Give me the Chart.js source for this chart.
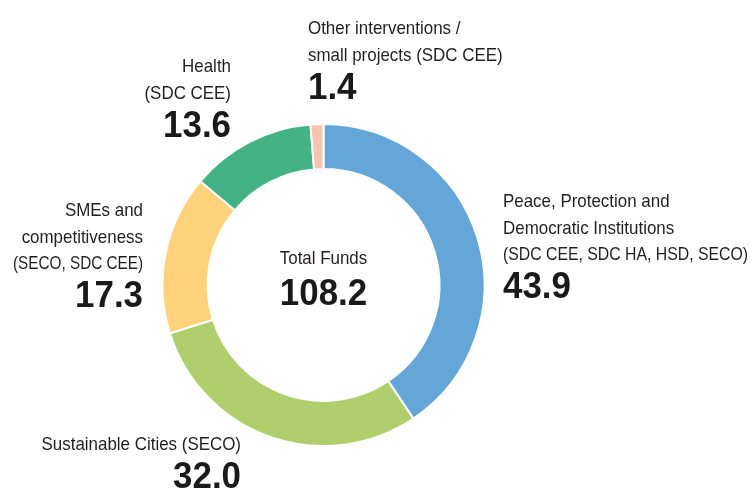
<!DOCTYPE html>
<html>
<head>
<meta charset="utf-8">
<script src="https://cdn.jsdelivr.net/npm/chart.js@4.4.1/dist/chart.umd.min.js"></script>
<style>
  html, body { margin:0; padding:0; background:#fff; }
  #wrap { width:752px; height:490px; position:relative; }
</style>
</head>
<body>
<div id="wrap"><canvas id="c"></canvas></div>
<script>
// data
const categories = [
  ['Peace, Protection and', 'Democratic Institutions', '(SDC CEE, SDC HA, HSD, SECO)'],
  ['Sustainable Cities (SECO)'],
  ['SMEs and', 'competitiveness', '(SECO, SDC CEE)'],
  ['Health', '(SDC CEE)'],
  ['Other interventions /', 'small projects (SDC CEE)']
];
const values = [43.9, 32.0, 17.3, 13.6, 1.4];
const colors = ['#64a6d8', '#afcf6c', '#fdd27a', '#43b386', '#f7c4b0'];
const totalLabel = 'Total Funds';
const totalValue = 108.2;

// label placement (x anchor, alignment, first baseline, max line width)
const labelPos = [
  { x: 503, align: 'left',  y: 207, maxW: 245 },
  { x: 241, align: 'right', y: 450, maxW: 999 },
  { x: 143, align: 'right', y: 216, maxW: 130 },
  { x: 231, align: 'right', y: 72,  maxW: 999 },
  { x: 308, align: 'left',  y: 34,  maxW: 999 }
];

const TEXT_FONT = '18.5px "Liberation Sans", sans-serif';
const NUM_FONT = 'bold 36px "Liberation Sans", sans-serif';
const LINE_H = 26.5;
const SQUEEZE = 0.915; // the original uses a condensed face

function squeezed(ctx, str, x, y, sx, maxW){
  if (maxW) {
    const w = ctx.measureText(str).width;
    sx = Math.min(sx, maxW / w);
  }
  ctx.save();
  ctx.translate(x, y);
  ctx.scale(sx, 1);
  ctx.fillText(str, 0, 0);
  ctx.restore();
}

const labelsPlugin = {
  id: 'labels',
  afterDraw(chart){
    const ctx = chart.ctx;
    ctx.save();
    ctx.textBaseline = 'alphabetic';
    labelPos.forEach((p, i) => {
      ctx.textAlign = p.align;
      ctx.fillStyle = '#231f20';
      ctx.font = TEXT_FONT;
      let y = p.y;
      categories[i].forEach((line, j) => {
        squeezed(ctx, line, p.x, y, SQUEEZE, p.maxW);
        if (j < categories[i].length - 1) y += LINE_H;
      });
      ctx.font = NUM_FONT;
      ctx.fillStyle = '#1a1a1a';
      squeezed(ctx, values[i].toFixed(1), p.x, y + 38, 0.97);
    });
    // center
    const arc = chart.getDatasetMeta(0).data[0];
    ctx.textAlign = 'center';
    ctx.fillStyle = '#231f20';
    ctx.font = TEXT_FONT;
    squeezed(ctx, totalLabel, arc.x, 264, SQUEEZE);
    ctx.font = NUM_FONT;
    ctx.fillStyle = '#1a1a1a';
    squeezed(ctx, totalValue.toFixed(1), arc.x, 305, 0.97);
    ctx.restore();
  }
};

new Chart(document.getElementById('c'), {
  type: 'doughnut',
  data: {
    labels: categories.map(c => c.join(' ')),
    datasets: [{
      data: values,
      backgroundColor: colors,
      borderColor: '#ffffff',
      borderWidth: 2
    }]
  },
  options: {
    responsive: true,
    maintainAspectRatio: false,
    animation: false,
    cutout: '72%',
    layout: { padding: { left: 161, right: 266, top: 123, bottom: 43 } },
    plugins: { legend: { display: false }, tooltip: { enabled: false } }
  },
  plugins: [labelsPlugin]
});
</script>
</body>
</html>
